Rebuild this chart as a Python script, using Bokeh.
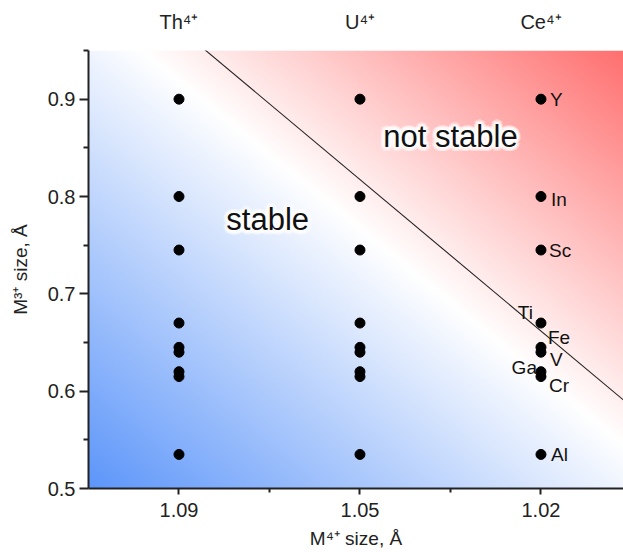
import numpy as np
from bokeh.plotting import figure
from bokeh.models import ColumnDataSource, Range1d, FixedTicker, LinearAxis, Label, LabelSet
from bokeh.core.properties import value
from bokeh.embed import file_html
from bokeh.resources import INLINE

# ---------------- data ----------------
m4_sizes = ["1.09", "1.05", "1.02"]          # M4+ ionic size (bottom axis)
m4_cations = ["Th⁴⁺", "U⁴⁺", "Ce⁴⁺"]          # top axis
m3_names = ["Y", "In", "Sc", "Ti", "Fe", "V", "Ga", "Cr", "Al"]
m3_sizes = [0.900, 0.800, 0.745, 0.670, 0.645, 0.640, 0.620, 0.615, 0.535]
boundary_x = [0.0, 2.5]                      # stability boundary (column index)
boundary_y = [0.973, 0.584]
y_major = [0.5, 0.6, 0.7, 0.8, 0.9]
y_minor = [0.55, 0.65, 0.75, 0.85, 0.95]

# label placement (styles, pixels)
label_side = ["r", "r", "r", "l", "r", "r", "l", "r", "r"]
label_dx = [9, 10, 8, -8, 7, 9, -4, 8, 10]
label_dy = [0, -3, 0, 11, 10, -7, 4, -9, 0]

FONT = "Liberation Sans"

# ---------------- figure ----------------
x0, x1 = -0.5, 2.456
y0, y1 = 0.5, 0.95
p = figure(width=623, height=552, output_backend="svg", toolbar_location=None,
           x_range=Range1d(x0, x1), y_range=Range1d(y0, y1),
           min_border_left=88, min_border_right=0, min_border_top=50, min_border_bottom=64)
p.outline_line_color = None
p.xgrid.visible = False
p.ygrid.visible = False
p.background_fill_color = "white"
p.border_fill_color = "white"

# gradient background: blue (bottom-left) -> white -> red (top-right)
H, W = 220, 270
u = np.linspace(0, 1, W)[None, :]
v = np.linspace(0, 1, H)[:, None]
t = (u + v) / 2.0
blue = np.array([93, 150, 250], dtype=float)
white = np.array([255, 255, 255], dtype=float)
red = np.array([255, 112, 112], dtype=float)
tw = 0.55
rgb = np.zeros((H, W, 3))
for c in range(3):
    a = blue[c] + (white[c] - blue[c]) * np.clip(t / tw, 0, 1)
    b = white[c] + (red[c] - white[c]) * np.clip((t - tw) / (1 - tw), 0, 1)
    rgb[:, :, c] = np.where(t <= tw, a, b)
img = np.empty((H, W), dtype=np.uint32)
view = img.view(dtype=np.uint8).reshape((H, W, 4))
view[:, :, 0] = rgb[:, :, 0].astype(np.uint8)
view[:, :, 1] = rgb[:, :, 1].astype(np.uint8)
view[:, :, 2] = rgb[:, :, 2].astype(np.uint8)
view[:, :, 3] = 255
p.image_rgba(image=[img], x=x0, y=y0, dw=x1 - x0, dh=y1 - y0)

# boundary line
p.line(boundary_x, boundary_y, line_color="#222222", line_width=1.1)

# points
xs, ys = [], []
for i in range(len(m4_sizes)):
    for s in m3_sizes:
        xs.append(i)
        ys.append(s)
p.scatter(xs, ys, size=10, marker="circle", fill_color="black", line_color="black", line_width=1)

# element labels on the Ce column
last = len(m4_sizes) - 1
for side, align in (("r", "left"), ("l", "right")):
    idx = [k for k in range(len(m3_names)) if label_side[k] == side]
    src = ColumnDataSource(dict(
        x=[last] * len(idx),
        y=[m3_sizes[k] for k in idx],
        t=[m3_names[k] for k in idx],
        dx=[label_dx[k] for k in idx],
        dy=[label_dy[k] for k in idx],
    ))
    p.add_layout(LabelSet(x="x", y="y", text="t", source=src, x_offset="dx", y_offset="dy",
                          text_align=align, text_baseline="middle",
                          text_font=value(FONT), text_font_size="19px", text_color="#111111"))

# region labels with a soft white glow (white copies behind the black text)
regions = [("stable", 0.49, 0.776), ("not stable", 1.5, 0.862)]
ring = [(r * np.cos(a), r * np.sin(a)) for r in (4.5, 3.0, 1.5) for a in np.linspace(0, 2 * np.pi, 12, endpoint=False)]
for txt, lx, ly in regions:
    for ox, oy in ring:
        p.add_layout(Label(x=lx, y=ly, text=txt, x_offset=ox, y_offset=oy,
                           text_align="center", text_baseline="middle",
                           text_font=FONT, text_font_size="31px",
                           text_color="white", text_alpha=0.35))
for txt, lx, ly in regions:
    p.add_layout(Label(x=lx, y=ly, text=txt, text_align="center", text_baseline="middle",
                       text_font=FONT, text_font_size="31px", text_color="#111111"))

# ---------------- axes ----------------
ax = p.xaxis[0]
ax.ticker = FixedTicker(ticks=list(range(len(m4_sizes))), minor_ticks=[0.5, 1.5])
ax.major_label_overrides = {i: s for i, s in enumerate(m4_sizes)}
ax.axis_label = "M⁴⁺ size, Å"

ay = p.yaxis[0]
ay.ticker = FixedTicker(ticks=y_major, minor_ticks=y_minor)
ay.axis_label = "M³⁺ size, Å"

for a in (ax, ay):
    a.axis_line_color = "#222222"
    a.axis_line_width = 2
    a.major_tick_line_color = "#222222"
    a.major_tick_line_width = 2
    a.minor_tick_line_color = "#222222"
    a.minor_tick_line_width = 2
    a.major_tick_in = 0
    a.minor_tick_in = 0
    a.major_label_text_font = FONT
    a.major_label_text_font_size = "20px"
    a.major_label_text_color = "#222222"
    a.axis_label_text_font = FONT
    a.axis_label_text_font_size = "19px"
    a.axis_label_text_font_style = "normal"
    a.axis_label_text_color = "#222222"

ax.major_tick_out = 6
ax.minor_tick_out = 4
ax.major_label_standoff = 8
ax.axis_label_standoff = 8

ay.major_tick_out = 9
ay.minor_tick_out = 5
ay.major_label_standoff = 4
ay.axis_label_standoff = 14

top = LinearAxis(ticker=FixedTicker(ticks=list(range(len(m4_cations))), minor_ticks=[]))
top.major_label_overrides = {i: s for i, s in enumerate(m4_cations)}
top.axis_line_color = None
top.major_tick_line_color = None
top.minor_tick_line_color = None
top.major_label_text_font = FONT
top.major_label_text_font_size = "20px"
top.major_label_text_color = "#222222"
top.major_label_standoff = 12
p.add_layout(top, "above")

open("out.html", "w").write(file_html(p, INLINE))
